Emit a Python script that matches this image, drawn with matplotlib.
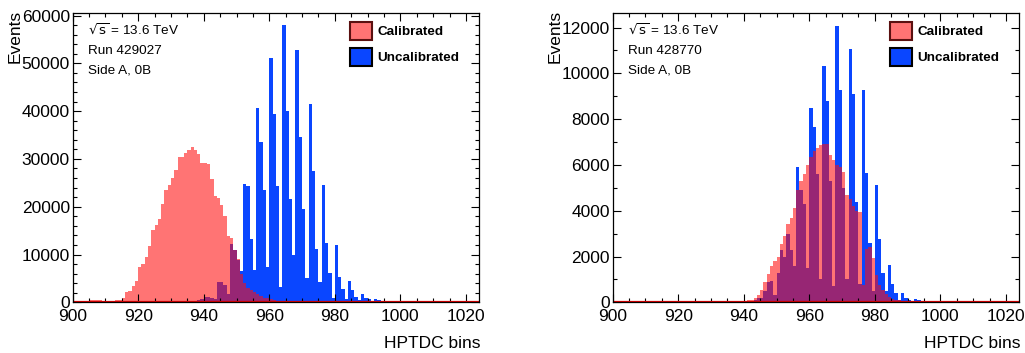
import numpy as np
import matplotlib
matplotlib.use("Agg")
import matplotlib.pyplot as plt
from matplotlib.patches import Rectangle
from matplotlib.ticker import MultipleLocator

plt.rcParams['font.family'] = ['Liberation Sans', 'DejaVu Sans']

# ---------------- data ----------------
x_min, x_max = 900, 1024

# Left panel (Run 429027)
left_run = "Run 429027"
left_uncal_first = 936
left_uncal = [200, 300, 500, 600, 1200, 1100, 800, 700, 4200, 4200, 3600, 1800,
              12300, 11000, 8800, 6500, 24700, 24300, 13300, 6700, 40600, 33500,
              23500, 7400, 51200, 39300, 24300, 3300, 58100, 40000, 21600, 9900,
              52800, 34600, 19600, 5000, 41500, 27500, 11100, 4300, 24500, 12400,
              6100, 800, 11900, 5300, 2800, 700, 4400, 2500, 1200, 400, 1700, 900,
              600, 300, 700, 500, 200, 100, 300, 200, 100, 50, 80]
left_cal_first = 904
left_cal = [300, 500, 500, 450, 400, 250, 200, 200, 300, 400, 400, 900, 2200, 2400,
            3400, 4400, 7300, 8000, 9400, 11800, 15200, 16100, 17500, 20500, 23600,
            24500, 26100, 27600, 30400, 30400, 31300, 31900, 32500, 31900, 31100,
            29200, 29200, 29000, 25700, 22200, 21900, 20300, 18000, 13800, 13400,
            11000, 9000, 6000, 4000, 3000, 2600, 2100, 1700, 1300, 1000, 800, 600,
            450, 350, 250, 200, 150, 120, 100, 80, 60, 50, 40, 30, 20, 15, 10]
left_ymax = 60600
left_yticks = [0, 10000, 20000, 30000, 40000, 50000, 60000]

# Right panel (Run 428770)
right_run = "Run 428770"
right_uncal_first = 940
right_uncal = [20, 30, 50, 100, 200, 200, 500, 900, 950, 300, 1300, 2300, 2000,
               3000, 2300, 1600, 5900, 4900, 4300, 1500, 8500, 7660, 5600, 1000,
               10300, 8800, 5300, 700, 12080, 9290, 5000, 1000, 11050, 9100, 4400,
               800, 9290, 5630, 2600, 500, 5140, 2760, 1300, 500, 1620, 800, 400,
               100, 420, 200, 100, 50, 150, 80, 40, 20, 50]
right_cal_first = 930
right_cal = [30, 40, 50, 40, 20, 20, 20, 20, 20, 20, 40, 80, 100, 170, 300, 550,
             900, 1250, 1600, 1800, 2000, 2550, 2900, 3400, 3700, 4100, 4900, 5300,
             5600, 6000, 6350, 6600, 6750, 6850, 6930, 6900, 6450, 6200, 6000, 5900,
             5700, 4700, 4500, 4200, 4000, 3950, 750, 2350, 2400, 1950, 1200, 770,
             550, 350, 250, 150, 100, 80, 50, 30, 20]
right_ymax = 12650
right_yticks = [0, 2000, 4000, 6000, 8000, 10000, 12000]

labels = ["Calibrated", "Uncalibrated"]
energy_text = r"$\sqrt{\mathrm{s}}$ = 13.6 TeV"
side_text = "Side A, 0B"
xlabel = "HPTDC bins"
ylabel = "Events"

# ---------------- style ----------------
W, H = 1025, 353
blue = '#0a46ff'
red = '#ff1010'
red_alpha = 0.58

fig = plt.figure(figsize=(W / 100, H / 100), dpi=100)


def px(x, y):
    return x / W, 1 - y / H


def full_hist(first, vals):
    arr = np.zeros(x_max - x_min)
    i0 = first - x_min
    arr[i0:i0 + len(vals)] = vals
    return arr


def panel(x0, uncal_first, uncal, cal_first, cal, ymax, yticks, yminor, run):
    left, top, right, bottom = x0 + 72.67, 12.7, x0 + 479.0, 302.3
    ax = fig.add_axes([left / W, 1 - bottom / H, (right - left) / W, (bottom - top) / H])
    edges = np.arange(x_min, x_max + 1)
    ax.stairs(full_hist(uncal_first, uncal), edges, fill=True, color=blue, lw=0)
    ax.stairs(full_hist(cal_first, cal), edges, fill=True, facecolor=red,
              alpha=red_alpha, lw=0)
    ax.axhline(0, color='#e00000', lw=1.6, zorder=3)
    ax.set_xlim(x_min, x_max)
    ax.set_ylim(0, ymax)
    ax.set_xticks([900, 920, 940, 960, 980, 1000, 1020])
    ax.xaxis.set_minor_locator(MultipleLocator(5))
    ax.set_yticks(yticks)
    ax.yaxis.set_minor_locator(MultipleLocator(yminor))
    ax.tick_params(which='both', direction='in', top=True, right=True,
                   labelsize=12.5, width=0.8)
    ax.tick_params(which='major', length=6)
    ax.tick_params(which='minor', length=3)
    ax.tick_params(axis='x', pad=5)
    ax.tick_params(axis='y', pad=2)
    for s in ax.spines.values():
        s.set_linewidth(0.9)
        s.set_zorder(4)

    # axis titles
    fig.text(*px(x0 + 15, 10), ylabel, rotation=90, ha='center', va='top', fontsize=12.5)
    fig.text(*px(x0 + 480, 343), xlabel, ha='right', va='center', fontsize=12.5)

    # info texts
    fig.text(*px(x0 + 88, 30), energy_text, ha='left', va='center', fontsize=9.7)
    fig.text(*px(x0 + 88, 50.5), run, ha='left', va='center', fontsize=9.7)
    fig.text(*px(x0 + 88, 70.7), side_text, ha='left', va='center', fontsize=9.7)

    # legend
    bx, bw, bh = x0 + 350, 22, 18
    for j, (lab, fc, ec, a) in enumerate([(labels[0], red, '#5a1010', red_alpha),
                                           (labels[1], blue, 'black', 1.0)]):
        by = 22 + j * 26
        fig.patches.append(Rectangle(px(bx, by + bh), bw / W, bh / H,
                                     transform=fig.transFigure, facecolor=fc,
                                     alpha=a, edgecolor='none'))
        fig.patches.append(Rectangle(px(bx, by + bh), bw / W, bh / H,
                                     transform=fig.transFigure, facecolor='none',
                                     edgecolor=ec, lw=1.5))
        fig.text(*px(bx + 27, by + bh / 2 + 1), lab, ha='left', va='center',
                 fontsize=9.7, fontweight='bold')
    return ax


panel(0, left_uncal_first, left_uncal, left_cal_first, left_cal,
      left_ymax, left_yticks, 2000, left_run)
panel(540, right_uncal_first, right_uncal, right_cal_first, right_cal,
      right_ymax, right_yticks, 1000, right_run)

fig.savefig("out.png", dpi=100)
